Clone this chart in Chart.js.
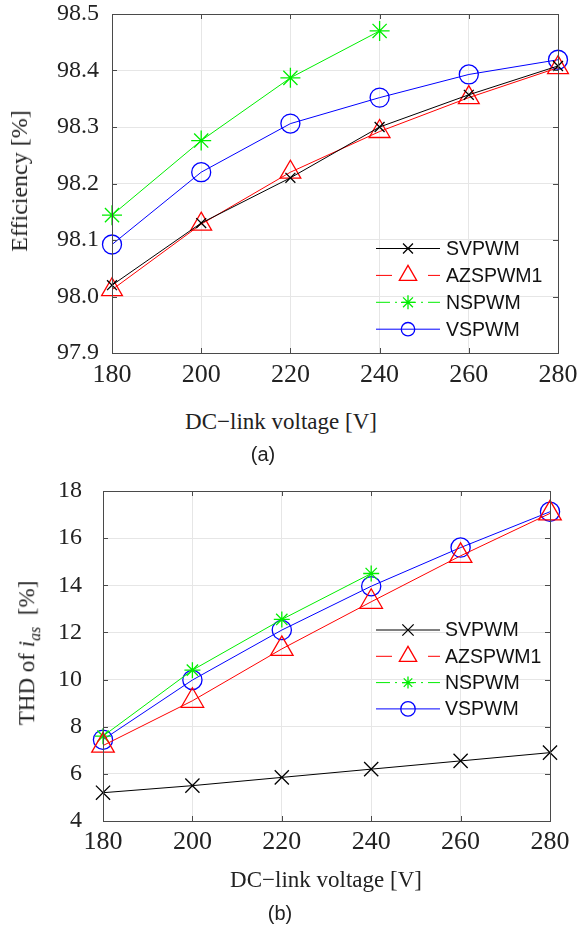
<!DOCTYPE html>
<html>
<head>
<meta charset="utf-8">
<script src="https://cdn.jsdelivr.net/npm/chart.js@4/dist/chart.umd.min.js"></script>
<style>
    body { margin: 0; background: #fff; }
    #page { position: relative; width: 578px; height: 926px; overflow: hidden; }
    canvas { position: absolute; left: 0; }
    .lbl { position: absolute; white-space: nowrap; color: #222; transform: translate(-50%, -50%); line-height: 1; }
    .serif { font-family: "Liberation Serif", "Times New Roman", serif; }
    .sans { font-family: "Liberation Sans", Arial, sans-serif; }
    .rot { transform: translate(-50%, -50%) rotate(-90deg); }
</style>
</head>
<body>
<div id="page">
    <canvas id="eff-chart" width="578" height="400" style="top:0"></canvas>
    <canvas id="thd-chart" width="578" height="410" style="top:460px"></canvas>

    <div class="lbl serif rot" style="left:19px; top:181px; font-size:24px;">Efficiency [%]</div>
    <div class="lbl serif" style="left:281px; top:421px; font-size:23px;">DC−link voltage [V]</div>
    <div class="lbl sans" style="left:263px; top:454px; font-size:20px;">(a)</div>

    <div class="lbl serif rot" style="left:29px; top:653px; font-size:23px;">THD of <i>i</i><sub style="font-style:italic; font-size:16px;">as</sub>&nbsp; [%]</div>
    <div class="lbl serif" style="left:326px; top:879px; font-size:23px;">DC−link voltage [V]</div>
    <div class="lbl sans" style="left:280px; top:913px; font-size:20px;">(b)</div>
</div>

<script>
// DC-link voltage [V]
const voltages = [180, 200, 220, 240, 260, 280];
const voltagesNs = [180, 200, 220, 240];

// (a) efficiency [%]
const effSvpwm = [98.02, 98.13, 98.21, 98.30, 98.357, 98.408];
const effAzspwm1 = [98.012, 98.128, 98.22, 98.292, 98.352, 98.405];
const effNspwm = [98.144, 98.276, 98.387, 98.47];
const effVspwm = [98.092, 98.22, 98.306, 98.352, 98.393, 98.419];

// (b) THD of ias [%]
const thdSvpwm = [5.2, 5.5, 5.85, 6.2, 6.55, 6.9];
const thdAzspwm1 = [7.2, 9.1, 11.3, 13.3, 15.25, 17.05];
const thdNspwm = [7.6, 10.4, 12.55, 14.5];
const thdVspwm = [7.45, 9.98, 12.1, 13.96, 15.6, 17.12];

const seriesNames = ['SVPWM', 'AZSPWM1', 'NSPWM', 'VSPWM'];
const seriesColors = ['#000000', '#ff0000', '#00ee00', '#0000ff'];
const seriesMarkers = ['crossRot', 'triangle', 'star', 'circle'];
const legendDashes = [[], [16, 36], [14, 5, 2, 5], []];

const toPoints = function(xs, ys){
    let res = [];
    for (let i = 0; i < ys.length; i++) {
        res.push({ x: xs[i], y: ys[i] });
    }
    return res;
};

// box round the plot with inward ticks on all four sides
const framePlugin = {
    id: 'frame',
    afterDatasetsDraw(chart, args, opts) {
        const ctx = chart.ctx;
        const a = chart.chartArea;
        const xs = chart.scales.x;
        const ys = chart.scales.y;
        ctx.save();
        ctx.strokeStyle = '#4a4a4a';
        ctx.lineWidth = 1;
        ctx.beginPath();
        for (const t of xs.ticks) {
            let px = Math.round(xs.getPixelForValue(t.value)) + 0.5;
            ctx.moveTo(px, a.bottom); ctx.lineTo(px, a.bottom - 5);
            ctx.moveTo(px, a.top); ctx.lineTo(px, a.top + 5);
        }
        for (const t of ys.ticks) {
            let py = Math.round(ys.getPixelForValue(t.value)) + 0.5;
            ctx.moveTo(a.left, py); ctx.lineTo(a.left + 5, py);
            ctx.moveTo(a.right, py); ctx.lineTo(a.right - 5, py);
        }
        ctx.stroke();
        ctx.strokeRect(Math.round(a.left) + 0.5, Math.round(a.top) + 0.5, Math.round(a.width), Math.round(a.height));
        ctx.restore();
    }
};

// legend drawn as line + marker + text, like the original figure
const lineLegendPlugin = {
    id: 'lineLegend',
    afterDraw(chart, args, opts) {
        const ctx = chart.ctx;
        ctx.save();
        chart.data.datasets.forEach((ds, i) => {
            let y = opts.top + i * opts.rowGap;
            ctx.strokeStyle = ds.borderColor;
            ctx.lineWidth = 1;
            ctx.setLineDash(legendDashes[i]);
            ctx.beginPath();
            ctx.moveTo(opts.lineX1, y);
            ctx.lineTo(opts.lineX2, y);
            ctx.stroke();
            ctx.setLineDash([]);
            ctx.fillStyle = 'rgba(0,0,0,0)';
            ctx.lineWidth = 1.3;
            Chart.helpers.drawPoint(ctx, {
                pointStyle: ds.pointStyle,
                radius: opts.markerRadius[i],
                rotation: 0,
                borderWidth: 1.3
            }, opts.markerX, y);
            ctx.fillStyle = '#111';
            ctx.font = '19.5px "Liberation Sans", Arial, sans-serif';
            ctx.textBaseline = 'middle';
            ctx.textAlign = 'left';
            ctx.fillText(ds.label, opts.textX, y + 1);
        });
        ctx.restore();
    }
};

const makeDatasets = function(seriesList, radii){
    let res = [];
    for (let i = 0; i < seriesList.length; i++) {
        res.push({
            label: seriesNames[i],
            data: seriesList[i],
            borderColor: seriesColors[i],
            borderWidth: 1,
            pointStyle: seriesMarkers[i],
            pointRadius: radii[i],
            pointHoverRadius: radii[i],
            pointBorderColor: seriesColors[i],
            pointBackgroundColor: 'rgba(0,0,0,0)',
            pointBorderWidth: 1.3,
            tension: 0,
            fill: false,
            clip: false
        });
    }
    return res;
};

const buildChart = function(canvasId, datasets, yOpts, layout, legendOpts){
    let ctx = document.getElementById(canvasId);

    return new Chart(ctx, {
        type: 'line',
        data: { datasets },
        options: {
            responsive: false,
            animation: false,
            devicePixelRatio: 1,
            layout: { padding: { top: layout.top, right: layout.right, left: 0, bottom: 0 } },
            scales: {
                x: {
                    type: 'linear',
                    min: 180,
                    max: 280,
                    afterFit: (scale) => {
                        // fixed axis band, no extra room for the end labels
                        scale.height = layout.xHeight;
                        scale.paddingLeft = 0;
                        scale.paddingRight = 0;
                    },
                    ticks: {
                        stepSize: 20,
                        padding: layout.xPad,
                        color: '#222',
                        font: { family: '"Liberation Serif", "Times New Roman", serif', size: 26 }
                    },
                    grid: { color: '#e6e6e6', drawTicks: false },
                    border: { display: false }
                },
                y: {
                    min: yOpts.min,
                    max: yOpts.max,
                    afterFit: (scale) => {
                        scale.width = layout.yWidth;
                        scale.paddingTop = 0;
                        scale.paddingBottom = 0;
                    },
                    ticks: {
                        stepSize: yOpts.step,
                        padding: layout.yPad,
                        color: '#222',
                        font: { family: '"Liberation Serif", "Times New Roman", serif', size: yOpts.fontSize },
                        callback: (v) => Number(v).toFixed(yOpts.decimals)
                    },
                    grid: { color: '#e6e6e6', drawTicks: false },
                    border: { display: false }
                }
            },
            plugins: {
                legend: { display: false },
                tooltip: { enabled: false },
                lineLegend: legendOpts
            }
        },
        plugins: [framePlugin, lineLegendPlugin]
    });
};

buildChart('eff-chart',
    makeDatasets([
        toPoints(voltages, effSvpwm),
        toPoints(voltages, effAzspwm1),
        toPoints(voltagesNs, effNspwm),
        toPoints(voltages, effVspwm)
    ], [7, 12, 10, 9.5]),
    { min: 97.9, max: 98.5, step: 0.1, decimals: 1, fontSize: 24 },
    { top: 14, right: 20, xHeight: 47, yWidth: 112, xPad: 7, yPad: 13 },
    { top: 248.5, rowGap: 26.9, lineX1: 376, lineX2: 440, markerX: 408, textX: 446, markerRadius: [7, 10, 7, 6.7] }
);

buildChart('thd-chart',
    makeDatasets([
        toPoints(voltages, thdSvpwm),
        toPoints(voltages, thdAzspwm1),
        toPoints(voltagesNs, thdNspwm),
        toPoints(voltages, thdVspwm)
    ], [10, 13, 8, 9.6]),
    { min: 4, max: 18, step: 2, decimals: 0, fontSize: 24 },
    { top: 31, right: 28, xHeight: 49, yWidth: 103, xPad: 6, yPad: 21 },
    { top: 170, rowGap: 26.3, lineX1: 376, lineX2: 440, markerX: 408, textX: 445, markerRadius: [8, 10, 6, 7.2] }
);
</script>
</body>
</html>
